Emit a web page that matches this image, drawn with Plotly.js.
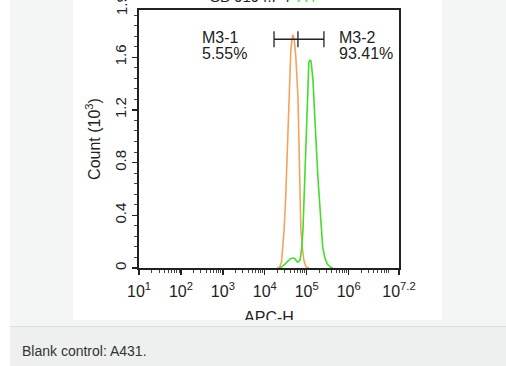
<!DOCTYPE html>
<html>
<head>
<meta charset="utf-8">
<script src="https://cdn.plot.ly/plotly-3.0.1.min.js"></script>
<style>
  html, body { margin: 0; padding: 0; width: 506px; height: 366px; background: #ffffff; overflow: hidden; }
  #bg { position: absolute; left: 10px; top: 0; width: 496px; height: 326px; background: #f4f6f6; border-bottom: 1px solid #dcdede; }
  #cap { position: absolute; left: 10px; top: 327px; width: 496px; height: 39px; background: #eef0ef; }
  #capText { position: absolute; left: 22px; top: 343px; font-family: Arial, "Liberation Sans", sans-serif; font-size: 14px; color: #333; }
  #clip { position: absolute; left: 73px; top: 0; width: 369px; height: 320px; overflow: hidden; background: #fff; }
  #plot { width: 369px; height: 332px; }
</style>
</head>
<body>
<div id="bg"></div>
<div id="cap"></div>
<div id="capText">Blank control: A431.</div>
<div id="clip"><div id="plot"></div></div>
<script>
// Control (orange) histogram: log10 fluorescence and count (10^3)
var controlLogX = [4.30, 4.36, 4.40, 4.44, 4.46, 4.50, 4.53, 4.56, 4.58, 4.60, 4.62, 4.65, 4.67, 4.70, 4.72, 4.74, 4.77, 4.79, 4.81, 4.82, 4.84, 4.86, 4.90, 4.93, 4.98, 5.05];
var controlCount = [0, 0.01, 0.05, 0.18, 0.29, 0.55, 0.80, 1.08, 1.30, 1.48, 1.65, 1.74, 1.77, 1.74, 1.68, 1.60, 1.42, 1.30, 1.02, 0.80, 0.55, 0.29, 0.14, 0.06, 0.01, 0];
// Sample (green) histogram
var sampleLogX = [4.35, 4.41, 4.48, 4.55, 4.61, 4.67, 4.72, 4.76, 4.79, 4.84, 4.88, 4.91, 4.94, 4.96, 4.99, 5.01, 5.03, 5.05, 5.08, 5.10, 5.12, 5.15, 5.18, 5.20, 5.24, 5.27, 5.31, 5.34, 5.38, 5.43, 5.49, 5.55, 5.62];
var sampleCount = [0, 0.01, 0.03, 0.05, 0.07, 0.076, 0.07, 0.05, 0.045, 0.06, 0.15, 0.29, 0.55, 0.80, 1.08, 1.30, 1.45, 1.56, 1.58, 1.57, 1.52, 1.42, 1.22, 1.05, 0.85, 0.67, 0.46, 0.29, 0.16, 0.08, 0.03, 0.01, 0];
// Gates (linear fluorescence values) and their labels
var gateEdges = [16600, 61700, 257000];
var gateLevel = 1.736;
var gateCap = [1.676, 1.797];
var gateNames = ["M3-1", "M3-2"];
var gatePercents = ["5.55%", "93.41%"];
// Axis tick labels
var xTickLogs = [1, 2, 3, 4, 5, 6, 7.2];
var xTickText = ["10<sup>1</sup>", "10<sup>2</sup>", "10<sup>3</sup>", "10<sup>4</sup>", "10<sup>5</sup>", "10<sup>6</sup>", "10<sup>7.2</sup>"];
var yTickVals = [0, 0.4, 0.8, 1.2, 1.6];
var yTickText = ["0", "0.4", "0.8", "1.2", "1.6"];
var yTopLabel = "1.9";

function pow10(a) { return a.map(function (v) { return Math.pow(10, v); }); }

var font = "Arial, 'Liberation Sans', sans-serif";
var minorX = [];
for (var d = 1; d < 8; d++) {
  for (var m = 2; m <= 9; m++) {
    var v = m * Math.pow(10, d);
    if (Math.log10(v) < 7.2) minorX.push(v);
  }
}

var traces = [
  { x: pow10(controlLogX), y: controlCount, mode: "lines", line: { color: "#f5a35c", width: 1.6 }, hoverinfo: "skip" },
  { x: pow10(sampleLogX), y: sampleCount, mode: "lines", line: { color: "#44dd2c", width: 1.6 }, hoverinfo: "skip" },
  { x: gateEdges, y: gateEdges.map(function () { return gateLevel; }), mode: "lines", line: { color: "#222", width: 1.3 }, hoverinfo: "skip" }
];
gateEdges.forEach(function (g) {
  traces.push({ x: [g, g], y: gateCap, mode: "lines", line: { color: "#222", width: 1.3 }, hoverinfo: "skip" });
});

var annFont = { family: font, size: 16, color: "#222" };
var annotations = [
  { xref: "paper", yref: "paper", x: 0.235, y: 0.895, xanchor: "left", yanchor: "middle", text: gateNames[0], showarrow: false, font: annFont },
  { xref: "paper", yref: "paper", x: 0.235, y: 0.832, xanchor: "left", yanchor: "middle", text: gatePercents[0], showarrow: false, font: annFont },
  { xref: "paper", yref: "paper", x: 0.762, y: 0.895, xanchor: "left", yanchor: "middle", text: gateNames[1], showarrow: false, font: annFont },
  { xref: "paper", yref: "paper", x: 0.762, y: 0.832, xanchor: "left", yanchor: "middle", text: gatePercents[1], showarrow: false, font: annFont },
  { xref: "paper", yref: "paper", x: 0, y: 1, xanchor: "center", yanchor: "middle", xshift: -18, yshift: 5, textangle: -90, text: yTopLabel, showarrow: false, font: { family: font, size: 15, color: "#222" } },
  { xref: "paper", yref: "paper", x: 0.265, y: 1, xanchor: "left", yanchor: "bottom", yshift: 3, text: "SB 9194.P4  <span style='color:#44dd2c'>A4</span>", showarrow: false, font: { family: font, size: 15, color: "#222" } }
];

var layout = {
  width: 369, height: 332,
  margin: { l: 66, r: 43, t: 10, b: 64 },
  paper_bgcolor: "#ffffff", plot_bgcolor: "#ffffff",
  showlegend: false,
  xaxis: {
    type: "log", range: [1, 7.2],
    tickmode: "array", tickvals: pow10(xTickLogs), ticktext: xTickText,
    ticks: "outside", ticklen: 5, tickwidth: 1.3, tickcolor: "#222",
    ticklabelstandoff: 3,
    minor: { tickmode: "array", tickvals: minorX, ticks: "outside", ticklen: 3, tickcolor: "#444", tickwidth: 1 },
    showline: true, linecolor: "#222", linewidth: 1.6, mirror: true,
    showgrid: false, zeroline: false,
    tickfont: { family: font, size: 16, color: "#222" },
    title: { text: "APC-H", font: { family: font, size: 16, color: "#222" }, standoff: 13 },
    automargin: false, fixedrange: true
  },
  yaxis: {
    range: [0, 1.958],
    tickmode: "array", tickvals: yTickVals, ticktext: yTickText,
    tickangle: -90,
    ticks: "outside", ticklen: 5, tickwidth: 1.3, tickcolor: "#222",
    minor: { dtick: 0.08, tick0: 0, ticks: "outside", ticklen: 3, tickcolor: "#444", tickwidth: 1 },
    showline: true, linecolor: "#222", linewidth: 1.6, mirror: true,
    showgrid: false, zeroline: false,
    tickfont: { family: font, size: 15, color: "#222" },
    title: { text: "Count (10<sup>3</sup>)", font: { family: font, size: 16, color: "#222" }, standoff: 8 },
    automargin: false, fixedrange: true
  },
  annotations: annotations
};

Plotly.newPlot("plot", traces, layout, { displayModeBar: false, staticPlot: true });
</script>
</body>
</html>
